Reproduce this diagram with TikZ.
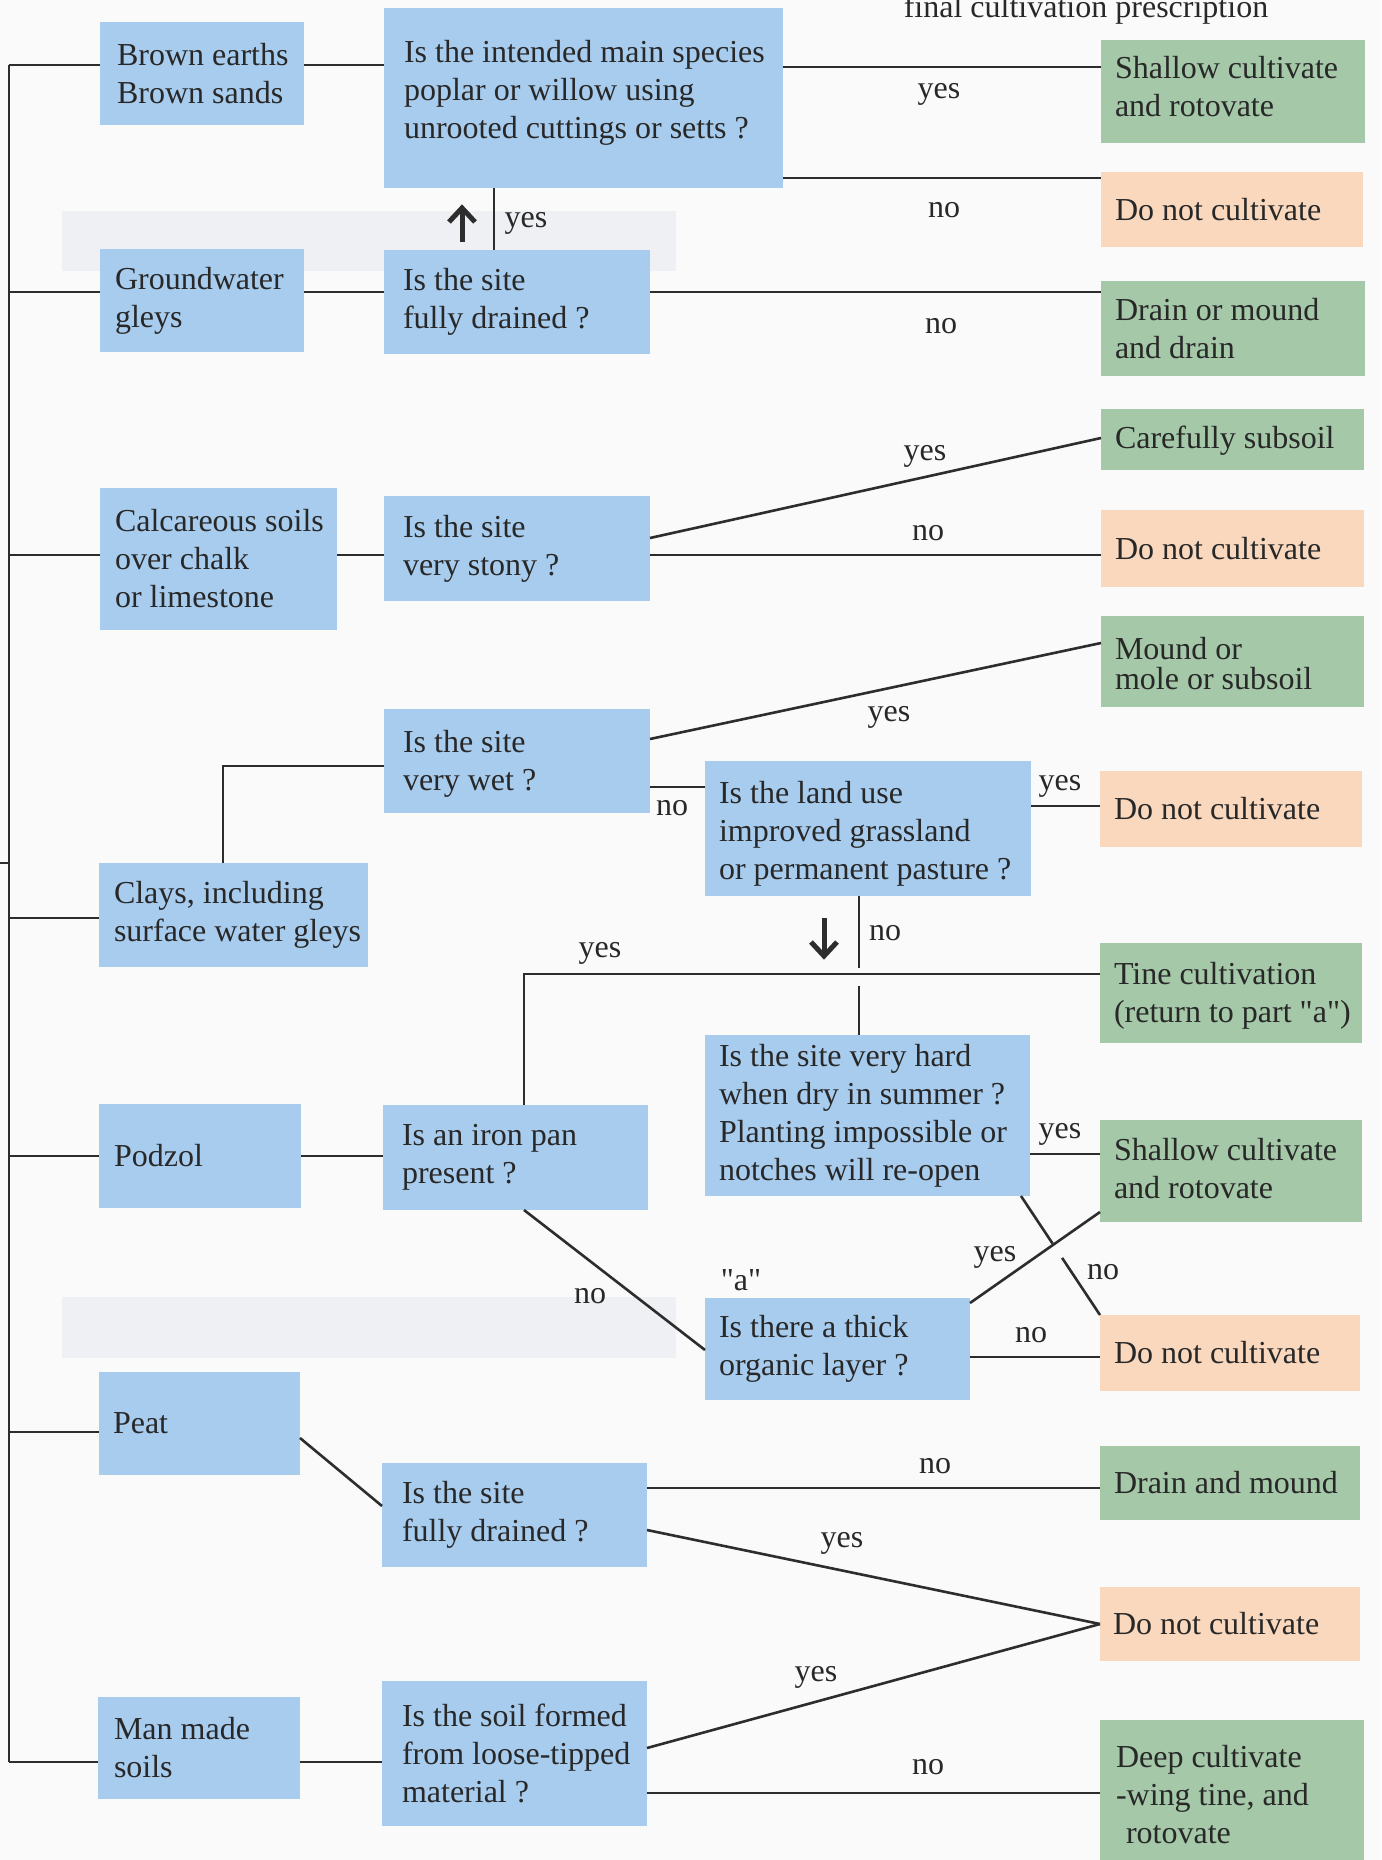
\documentclass[tikz,border=0pt]{standalone}
\usepackage{fontspec}
\setmainfont{Liberation Serif}[Ligatures=TeXOff]
\usetikzlibrary{calc}
\definecolor{bluec}{RGB}{168,204,238}
\definecolor{greenc}{RGB}{164,200,168}
\definecolor{orangec}{RGB}{249,216,190}
\definecolor{txt}{RGB}{40,40,40}
\definecolor{linec}{RGB}{45,45,45}
\definecolor{bgc}{RGB}{250,250,251}
\definecolor{bandc}{RGB}{238,240,244}
\newcommand\fs{\fontsize{32}{38}\selectfont}
\tikzset{
  boxbase/.style={rectangle, inner sep=0pt, outer sep=0pt},
  soil/.style={boxbase, fill=bluec},
  ques/.style={boxbase, fill=bluec},
  good/.style={boxbase, fill=greenc},
  bad/.style={boxbase, fill=orangec},
  txtnode/.style={inner sep=0pt, outer sep=0pt, align=left, font=\fs, text=txt},
  lab/.style={anchor=base, inner sep=0pt, font=\fs, text=txt},
  conn/.style={draw=linec, line width=2.6pt},
  bigarrow/.style={draw=linec, line width=5pt},
}
% style, name, x, y, w, h, shift options, text
\newcommand\tbox[8]{%
  \node[#1, minimum width=#5pt, minimum height=#6pt, anchor=north west] (#2) at (#3,#4) {};
  \node[txtnode, anchor=west] (#2t) at ([#7]#2.west) {#8};}
\begin{document}
\begin{tikzpicture}[x=1pt,y=-1pt]
\useasboundingbox (0,0) rectangle (1381,1860);
\clip (0,0) rectangle (1381,1860);
\fill[bgc] (0,0) rectangle (1381,1860);
\fill[bandc] (62,211) rectangle (676,271);
\fill[bandc] (62,1297) rectangle (676,1358);

% title
\node[lab] (title) at (1086,18) {final cultivation prescription};

% soil boxes
\tbox{soil}{b1}{100}{22}{204}{103}{xshift=17pt}{Brown earths\\Brown sands}
\tbox{soil}{b2}{100}{249}{204}{103}{xshift=15pt}{Groundwater\\gleys}
\tbox{soil}{b3}{100}{488}{237}{142}{xshift=15pt}{Calcareous soils\\over chalk\\or limestone}
\tbox{soil}{b4}{99}{863}{269}{104}{xshift=15pt}{Clays, including\\surface water gleys}
\tbox{soil}{b5}{99}{1104}{202}{104}{xshift=15pt}{Podzol}
\tbox{soil}{b6}{99}{1372}{201}{103}{xshift=14pt}{Peat}
\tbox{soil}{b7}{98}{1697}{202}{102}{xshift=16pt}{Man made\\soils}

% question boxes
\tbox{ques}{q1}{384}{8}{399}{180}{xshift=20pt,yshift=5pt}{Is the intended main species\\poplar or willow using\\unrooted cuttings or setts ?}
\tbox{ques}{q2}{384}{250}{266}{104}{xshift=19pt}{Is the site\\fully drained ?}
\tbox{ques}{q3}{384}{496}{266}{105}{xshift=19pt}{Is the site\\very stony ?}
\tbox{ques}{q4}{384}{709}{266}{104}{xshift=19pt,yshift=-3pt}{Is the site\\very wet ?}
\tbox{ques}{q5}{705}{761}{326}{135}{xshift=14pt,yshift=-5pt}{Is the land use\\improved grassland\\or permanent pasture ?}
\tbox{ques}{qi}{383}{1105}{265}{105}{xshift=19pt}{Is an iron pan\\present ?}
\tbox{ques}{q6}{705}{1035}{325}{161}{xshift=14pt}{Is the site very hard\\when dry in summer ?\\Planting impossible or\\notches will re-open}
\tbox{ques}{qo}{705}{1298}{265}{102}{xshift=14pt}{Is there a thick\\organic layer ?}
\tbox{ques}{q7}{382}{1463}{265}{104}{xshift=20pt}{Is the site\\fully drained ?}
\tbox{ques}{q8}{382}{1681}{265}{145}{xshift=20pt}{Is the soil formed\\from loose-tipped\\material ?}

% outcome boxes
\tbox{good}{g1}{1101}{40}{264}{103}{xshift=14pt,yshift=5pt}{Shallow cultivate\\and rotovate}
\tbox{bad}{o1}{1101}{172}{262}{75}{xshift=14pt}{Do not cultivate}
\tbox{good}{g2}{1101}{281}{264}{95}{xshift=14pt}{Drain or mound\\and drain}
\tbox{good}{g3}{1101}{409}{263}{61}{xshift=14pt,yshift=-1pt}{Carefully subsoil}
\tbox{bad}{o2}{1101}{510}{263}{77}{xshift=14pt}{Do not cultivate}
\tbox{good}{g4}{1101}{616}{263}{91}{xshift=14pt,yshift=-2pt}{Mound or\\[-8pt]mole or subsoil}
\tbox{bad}{o3}{1100}{771}{262}{76}{xshift=14pt}{Do not cultivate}
\tbox{good}{g5}{1100}{943}{262}{100}{xshift=14pt,yshift=-3pt}{Tine cultivation\\(return to part "a")}
\tbox{good}{g6}{1100}{1120}{262}{102}{xshift=14pt,yshift=2pt}{Shallow cultivate\\and rotovate}
\tbox{bad}{o4}{1100}{1315}{260}{76}{xshift=14pt}{Do not cultivate}
\tbox{good}{g7}{1100}{1446}{260}{74}{xshift=14pt}{Drain and mound}
\tbox{bad}{o5}{1100}{1587}{260}{74}{xshift=13pt}{Do not cultivate}
\tbox{good}{g8}{1100}{1720}{264}{155}{xshift=16pt,yshift=3pt}{Deep cultivate\\-wing tine, and\\\hspace*{10pt}rotovate}

% trunk
\coordinate (ttop) at (9,65);
\coordinate (tbot) at (9,1762);
\coordinate (tick) at (0,863);
\draw[conn] (ttop) -- (tbot);
\draw[conn] (tick) -- (9,863);
\draw[conn] (ttop) -- (b1.west |- 0,65);
\draw[conn] (9,292) -- (b2.west |- 0,292);
\draw[conn] (9,555) -- (b3.west |- 0,555);
\draw[conn] (9,918) -- (b4.west |- 0,918);
\draw[conn] (9,1156) -- (b5.west |- 0,1156);
\draw[conn] (9,1432) -- (b6.west |- 0,1432);
\draw[conn] (tbot) -- (b7.west |- 0,1762);

% soil -> question
\draw[conn] (b1.east |- 0,65) -- (q1.west |- 0,65);
\draw[conn] (b2.east |- 0,292) -- (q2.west |- 0,292);
\draw[conn] (b3.east |- 0,555) -- (q3.west |- 0,555);
\draw[conn] (b4.north -| 223,0) -- (223,766) -- (q4.west |- 0,766);
\draw[conn] (b5.east |- 0,1156) -- (qi.west |- 0,1156);
\draw[conn] (b6.east |- 0,1438) -- (q7.west |- 0,1506);
\draw[conn] (b7.east |- 0,1762) -- (q8.west |- 0,1762);

% q1
\draw[conn] (q1.east |- 0,67) -- (g1.west |- 0,67);
\draw[conn] (q1.east |- 0,178) -- (o1.west |- 0,178);
\node[lab] (l1y) at (939,99) {yes};
\node[lab] (l1n) at (944,217) {no};
% q2
\draw[conn] (q2.north -| 494,0) -- (q1.south -| 494,0);
\draw[bigarrow] (462,242) -- (462,210);
\draw[bigarrow, line join=miter] (449,222) -- (462,208) -- (475,222);
\node[lab] (l2y) at (526,227) {yes};
\draw[conn] (q2.east |- 0,292) -- (g2.west |- 0,292);
\node[lab] (l2n) at (941,333) {no};
% q3
\draw[conn] (q3.east |- 0,538) -- (g3.west |- 0,438);
\draw[conn] (q3.east |- 0,555) -- (o2.west |- 0,555);
\node[lab] (l3y) at (925,460) {yes};
\node[lab] (l3n) at (928,540) {no};
% q4
\draw[conn] (q4.east |- 0,739) -- (g4.west |- 0,643);
\draw[conn] (q4.east |- 0,787) -- (q5.west |- 0,787);
\node[lab] (l4y) at (889,721) {yes};
\node[lab] (l4n) at (672,815) {no};
% q5
\draw[conn] (q5.east |- 0,806) -- (o3.west |- 0,806);
\node[lab] (l5y) at (1060,790) {yes};
\draw[conn] (q5.south -| 859,0) -- (859,968);
\draw[conn] (859,986) -- (q6.north -| 859,0);
\draw[bigarrow] (824,918) -- (824,952);
\draw[bigarrow, line join=miter] (811,942) -- (824,956) -- (837,942);
\node[lab] (l5n) at (885,940) {no};
% iron pan
\draw[conn] (qi.north -| 524,0) -- (524,974) -- (g5.west |- 0,974);
\node[lab] (liy) at (600,957) {yes};
\draw[conn] (qi.south -| 524,0) -- (qo.west |- 0,1350);
\node[lab] (lin) at (590,1303) {no};
% q6
\draw[conn] (q6.east |- 0,1154) -- (g6.west |- 0,1154);
\node[lab] (l6y) at (1060,1138) {yes};
\coordinate (a6) at (1021,1196);
\coordinate (b6e) at (o4.north west);
\draw[conn] (a6) -- ($(a6)!0.40!(b6e)$);
\draw[conn] ($(a6)!0.52!(b6e)$) -- (b6e);
\node[lab] (l6n) at (1103,1279) {no};
% organic layer
\node[lab] (la) at (741,1290) {"a"};
\draw[conn] (qo.east |- 0,1303) -- (g6.west |- 0,1212);
\node[lab] (loy) at (995,1261) {yes};
\draw[conn] (qo.east |- 0,1357) -- (o4.west |- 0,1357);
\node[lab] (lon) at (1031,1342) {no};
% q7
\draw[conn] (q7.east |- 0,1488) -- (g7.west |- 0,1488);
\node[lab] (l7n) at (935,1473) {no};
\draw[conn] (q7.east |- 0,1530) -- (o5.west);
\node[lab] (l7y) at (842,1547) {yes};
% q8
\draw[conn] (q8.east |- 0,1748) -- (o5.west);
\node[lab] (l8y) at (816,1681) {yes};
\draw[conn] (q8.east |- 0,1793) -- (g8.west |- 0,1793);
\node[lab] (l8n) at (928,1774) {no};
\end{tikzpicture}
\end{document}
